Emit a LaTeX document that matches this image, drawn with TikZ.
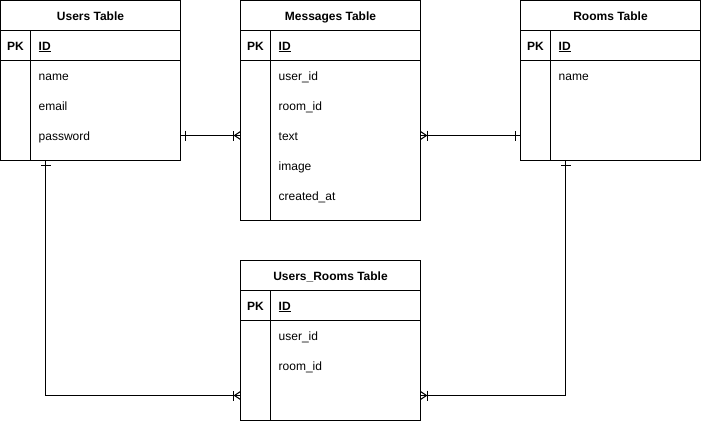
\documentclass[tikz,border=0pt]{standalone}
\usepackage{fontspec}
\setmainfont{Liberation Sans}
\usetikzlibrary{calc}
\tikzset{
  x=1pt, y=-1pt,
  ln/.style={line width=1pt, draw=black},
  tbl/.style={ln, rectangle, anchor=north west, minimum width=180pt, inner sep=0pt, outer sep=0pt, fill=white},
  hdr/.style={inner sep=0pt, anchor=base, font=\fontsize{12}{14}\selectfont\bfseries},
  pk/.style={inner sep=0pt, anchor=base, font=\fontsize{12}{14}\selectfont\bfseries},
  fld/.style={inner sep=0pt, anchor=base west, font=\fontsize{12}{14}\selectfont},
  onebar/.pic={\draw[ln] (5,-5) -- (5,5);},
  crowbar/.pic={\draw[ln] (7,-5) -- (7,5); \draw[ln] (0,-4) -- (6,0) -- (0,4);},
}
\newcommand{\ertable}[6]{%
  \node[tbl, minimum height=#4pt] (#1) at (#2,#3) {};
  \draw[ln] ($(#1.north west)+(0,30)$) -- ($(#1.north east)+(0,30)$);
  \draw[ln] ($(#1.north west)+(0,60)$) -- ($(#1.north east)+(0,60)$);
  \draw[ln] ($(#1.north west)+(30,30)$) -- ($(#1.south west)+(30,0)$);
  \node[hdr] (#1-t) at ($(#1.north)+(0,19.5)$) {#5};
  \node[pk] (#1-pk) at ($(#1.north west)+(15,49.5)$) {PK};
  \node[fld] (#1-id) at ($(#1.north west)+(38,49.5)$) {\textbf{\underline{ID}}};
  \foreach \f [count=\i] in {#6} {\node[fld] (#1-f\i) at ($(#1.north west)+(38,49.5+30*\i)$) {\f};}
}
\begin{document}
\begin{tikzpicture}
\useasboundingbox (0,0) rectangle (701,421);
\ertable{users}{0.5}{0.5}{160}{Users Table}{name,email,password}
\ertable{msgs}{240.5}{0.5}{220}{Messages Table}{user\_id,room\_id,text,image,created\_at}
\ertable{rooms}{520.5}{0.5}{160}{Rooms Table}{name}
\ertable{ur}{240.5}{260.5}{160}{Users\_Rooms Table}{user\_id,room\_id}
% connectors
\coordinate (a1) at ($(users.north east)+(0,135)$);
\coordinate (a2) at ($(msgs.north west)+(0,135)$);
\draw[ln] (a1) -- (a2);
\pic at (a1) {onebar};
\pic[rotate=180] at (a2) {crowbar};
\coordinate (b1) at ($(msgs.north east)+(0,135)$);
\coordinate (b2) at ($(rooms.north west)+(0,135)$);
\draw[ln] (b1) -- (b2);
\pic at (b1) {crowbar};
\pic[rotate=180] at (b2) {onebar};
\coordinate (c1) at ($(users.south west)+(45,0)$);
\coordinate (c2) at ($(ur.north west)+(0,135)$);
\draw[ln] (c1) |- (c2);
\pic[rotate=-90] at (c1) {onebar};
\pic[rotate=180] at (c2) {crowbar};
\coordinate (d1) at ($(rooms.south west)+(45,0)$);
\coordinate (d2) at ($(ur.north east)+(0,135)$);
\draw[ln] (d1) |- (d2);
\pic[rotate=-90] at (d1) {onebar};
\pic at (d2) {crowbar};
\end{tikzpicture}
\end{document}
